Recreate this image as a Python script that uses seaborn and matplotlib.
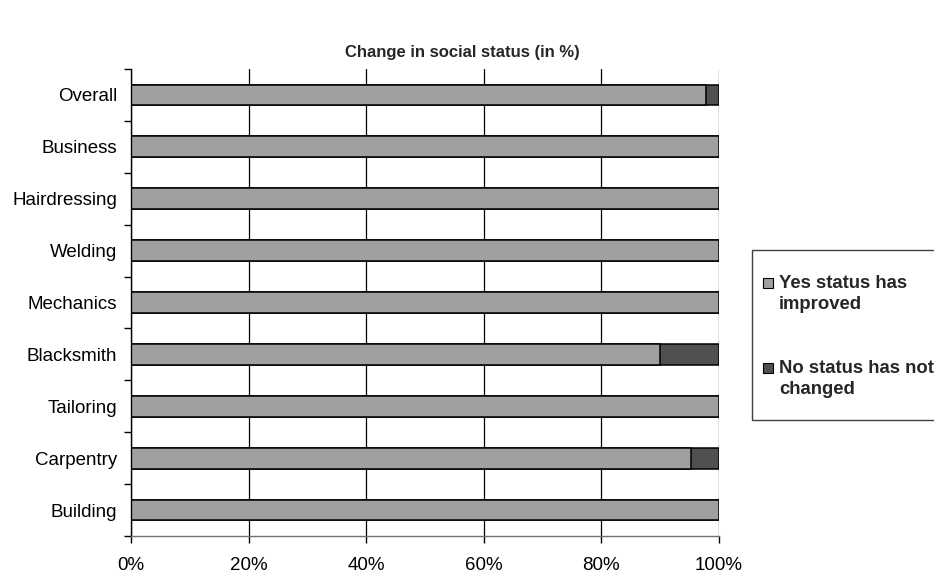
import matplotlib
matplotlib.use("Agg")
import matplotlib.pyplot as plt
import matplotlib.patches as mpatches
from matplotlib.ticker import FixedLocator, PercentFormatter
import seaborn as sns
import pandas as pd

categories = ["Overall", "Business", "Hairdressing", "Welding", "Mechanics",
              "Blacksmith", "Tailoring", "Carpentry", "Building"]
yes_improved = [97.8, 100, 100, 100, 100, 90.0, 100, 95.2, 100]
no_not_changed = [2.2, 0, 0, 0, 0, 10.0, 0, 4.8, 0]
x_ticks = [0, 20, 40, 60, 80, 100]
series_labels = ["Yes status has\nimproved", "No status has not\nchanged"]

light = "#a0a0a0"
dark = "#505050"

sns.set_theme(style="white")
plt.rcParams["font.family"] = ["Liberation Sans", "DejaVu Sans"]

df = pd.DataFrame({
    "category": categories,
    "yes": yes_improved,
    "total": [a + b for a, b in zip(yes_improved, no_not_changed)],
})

fig = plt.figure(figsize=(9.34, 5.73), dpi=100)
ax = fig.add_axes([131 / 934, 37 / 573, 588 / 934, 467 / 573])

# stacked bars: full bar in dark, "yes" share drawn over it in light grey
sns.barplot(data=df, y="category", x="total", order=categories, color=dark,
            saturation=1, width=0.4, edgecolor="black", linewidth=1.1, ax=ax)
sns.barplot(data=df, y="category", x="yes", order=categories, color=light,
            saturation=1, width=0.4, edgecolor="black", linewidth=1.1, ax=ax)

ax.set_xlim(0, 100)
ax.set_ylim(len(categories) - 0.5, -0.5)
ax.set_xlabel("")
ax.set_ylabel("")

ax.xaxis.set_major_locator(FixedLocator(x_ticks))
ax.xaxis.set_major_formatter(PercentFormatter(decimals=0))
ax.tick_params(axis="x", which="major", bottom=True, length=5, width=1,
               color="black", labelsize=13.5, pad=10, labelcolor="black")
ax.grid(axis="x", color="black", linewidth=0.9)
ax.set_axisbelow(True)

# category labels centred, tick marks on the boundaries between them
ax.yaxis.set_minor_locator(FixedLocator([i - 0.5 for i in range(len(categories) + 1)]))
ax.tick_params(axis="y", which="major", left=False, length=0, labelsize=13.5,
               pad=10, labelcolor="black")
ax.tick_params(axis="y", which="minor", left=True, length=5, width=1, color="black")

for side in ["top", "right"]:
    ax.spines[side].set_visible(False)
ax.spines["left"].set_color("black")
ax.spines["left"].set_linewidth(1)
ax.spines["bottom"].set_color("#707070")
ax.spines["bottom"].set_linewidth(1)

fig.text(462 / 934, 1 - 52 / 573, "Change in social status (in %)",
         ha="center", va="center", fontsize=12, fontweight="bold")

# legend box on the right, one swatch per series beside its wrapped label
frame = mpatches.Rectangle((752 / 934, 1 - 420 / 573), 0.3, 170 / 573,
                           transform=fig.transFigure, fill=False,
                           edgecolor="#404040", linewidth=1)
fig.add_artist(frame)
entry_baselines = [288, 373]
for label, colour, base in zip(series_labels, [light, dark], entry_baselines):
    swatch = mpatches.Rectangle((763 / 934, 1 - base / 573), 10 / 934, 10 / 573,
                                transform=fig.transFigure, facecolor=colour,
                                edgecolor="black", linewidth=0.8)
    fig.add_artist(swatch)
    first, second = label.split("\n")
    fig.text(779 / 934, 1 - base / 573, first, ha="left", va="baseline",
             fontsize=13.3, fontweight="bold")
    fig.text(779 / 934, 1 - (base + 21) / 573, second, ha="left", va="baseline",
             fontsize=13.3, fontweight="bold")

fig.savefig("out.png", dpi=100)
